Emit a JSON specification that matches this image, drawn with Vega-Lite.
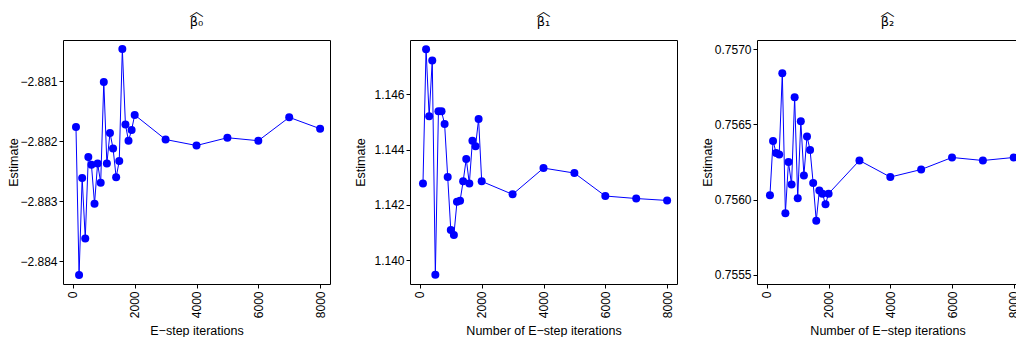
{
  "$schema": "https://vega.github.io/schema/vega-lite/v6.json",
  "background": "white",
  "padding": {"left": 6, "top": 3, "right": 0, "bottom": 0},
  "spacing": 22,
  "datasets": {
    "est": [
      {"iter": 100, "b0": -2.88176, "b1": 1.14277, "b2": 0.75603},
      {"iter": 200, "b0": -2.88423, "b1": 1.14763, "b2": 0.75639},
      {"iter": 300, "b0": -2.88261, "b1": 1.14520, "b2": 0.75631},
      {"iter": 400, "b0": -2.88362, "b1": 1.14722, "b2": 0.75630},
      {"iter": 500, "b0": -2.88226, "b1": 1.13947, "b2": 0.75684},
      {"iter": 600, "b0": -2.88239, "b1": 1.14538, "b2": 0.75591},
      {"iter": 700, "b0": -2.88304, "b1": 1.14538, "b2": 0.75625},
      {"iter": 800, "b0": -2.88237, "b1": 1.14492, "b2": 0.75610},
      {"iter": 900, "b0": -2.88269, "b1": 1.14301, "b2": 0.75668},
      {"iter": 1000, "b0": -2.88101, "b1": 1.14109, "b2": 0.75601},
      {"iter": 1100, "b0": -2.88237, "b1": 1.14091, "b2": 0.75652},
      {"iter": 1200, "b0": -2.88186, "b1": 1.14211, "b2": 0.75616},
      {"iter": 1300, "b0": -2.88212, "b1": 1.14215, "b2": 0.75642},
      {"iter": 1400, "b0": -2.88260, "b1": 1.14285, "b2": 0.75633},
      {"iter": 1500, "b0": -2.88233, "b1": 1.14366, "b2": 0.75611},
      {"iter": 1600, "b0": -2.88046, "b1": 1.14277, "b2": 0.75586},
      {"iter": 1700, "b0": -2.88172, "b1": 1.14432, "b2": 0.75606},
      {"iter": 1800, "b0": -2.88199, "b1": 1.14412, "b2": 0.75604},
      {"iter": 1900, "b0": -2.88181, "b1": 1.14510, "b2": 0.75597},
      {"iter": 2000, "b0": -2.88156, "b1": 1.14285, "b2": 0.75604},
      {"iter": 3000, "b0": -2.88197, "b1": 1.14238, "b2": 0.75626},
      {"iter": 4000, "b0": -2.88207, "b1": 1.14333, "b2": 0.75615},
      {"iter": 5000, "b0": -2.88194, "b1": 1.14315, "b2": 0.75620},
      {"iter": 6000, "b0": -2.88199, "b1": 1.14232, "b2": 0.75628},
      {"iter": 7000, "b0": -2.88160, "b1": 1.14223, "b2": 0.75626},
      {"iter": 8000, "b0": -2.88179, "b1": 1.14216, "b2": 0.75628}
    ]
  },
  "data": {"name": "est"},
  "hconcat": [
    {
      "width": 267, "height": 244,
      "title": {"text": "︿", "subtitle": "β₀"},
      "encoding": {
        "x": {"field": "iter", "type": "quantitative", "scale": {"domain": [-320, 8320], "nice": false, "zero": false}, "axis": {"title": "E−step iterations", "values": [0, 2000, 4000, 6000, 8000]}},
        "y": {"field": "b0", "type": "quantitative", "scale": {"domain": [-2.88438, -2.88031], "nice": false, "zero": false}, "axis": {"title": "Estimate", "values": [-2.884, -2.883, -2.882, -2.881], "format": ".3f"}}
      },
      "layer": [
        {"mark": {"type": "line", "color": "#0000FF", "strokeWidth": 1}},
        {"mark": {"type": "point", "filled": true, "color": "#0000FF", "size": 64, "opacity": 1}}
      ]
    },
    {
      "width": 267, "height": 244,
      "title": {"text": "︿", "subtitle": "β₁"},
      "encoding": {
        "x": {"field": "iter", "type": "quantitative", "scale": {"domain": [-320, 8320], "nice": false, "zero": false}, "axis": {"title": "Number of E−step iterations", "values": [0, 2000, 4000, 6000, 8000]}},
        "y": {"field": "b1", "type": "quantitative", "scale": {"domain": [1.13914, 1.14796], "nice": false, "zero": false}, "axis": {"title": "Estimate", "values": [1.140, 1.142, 1.144, 1.146], "format": ".3f"}}
      },
      "layer": [
        {"mark": {"type": "line", "color": "#0000FF", "strokeWidth": 1}},
        {"mark": {"type": "point", "filled": true, "color": "#0000FF", "size": 64, "opacity": 1}}
      ]
    },
    {
      "width": 261, "height": 244,
      "title": {"text": "︿", "subtitle": "β₂"},
      "encoding": {
        "x": {"field": "iter", "type": "quantitative", "scale": {"domain": [-320, 8138], "nice": false, "zero": false}, "axis": {"title": "Number of E−step iterations", "values": [0, 2000, 4000, 6000, 8000]}},
        "y": {"field": "b2", "type": "quantitative", "scale": {"domain": [0.75544, 0.75706], "nice": false, "zero": false}, "axis": {"title": "Estimate", "values": [0.7555, 0.756, 0.7565, 0.757], "format": ".4f"}}
      },
      "layer": [
        {"mark": {"type": "line", "color": "#0000FF", "strokeWidth": 1}},
        {"mark": {"type": "point", "filled": true, "color": "#0000FF", "size": 64, "opacity": 1}}
      ]
    }
  ],
  "config": {
    "font": "Liberation Sans",
    "view": {"stroke": "black", "strokeWidth": 1},
    "axis": {
      "domain": false, "grid": false,
      "tickColor": "black", "tickSize": 4, "tickWidth": 1,
      "labelColor": "black", "labelFontSize": 12, "labelFont": "Liberation Sans",
      "titleColor": "black", "titleFontSize": 12.5, "titleFontWeight": "normal", "titleFont": "Liberation Sans"
    },
    "axisY": {"minExtent": 36, "maxExtent": 36, "titlePadding": 7, "labelPadding": 2},
    "axisX": {"labelAngle": 270, "minExtent": 32, "maxExtent": 32, "titlePadding": 8, "labelPadding": 3, "format": "d", "labelFlush": false, "labelOverlap": false},
    "title": {
      "anchor": "middle", "font": "Noto Sans CJK SC", "fontSize": 14, "fontWeight": "normal", "color": "black",
      "subtitleFont": "DejaVu Sans", "subtitleFontSize": 13, "subtitleColor": "black", "subtitlePadding": -2, "offset": 11
    }
  }
}
